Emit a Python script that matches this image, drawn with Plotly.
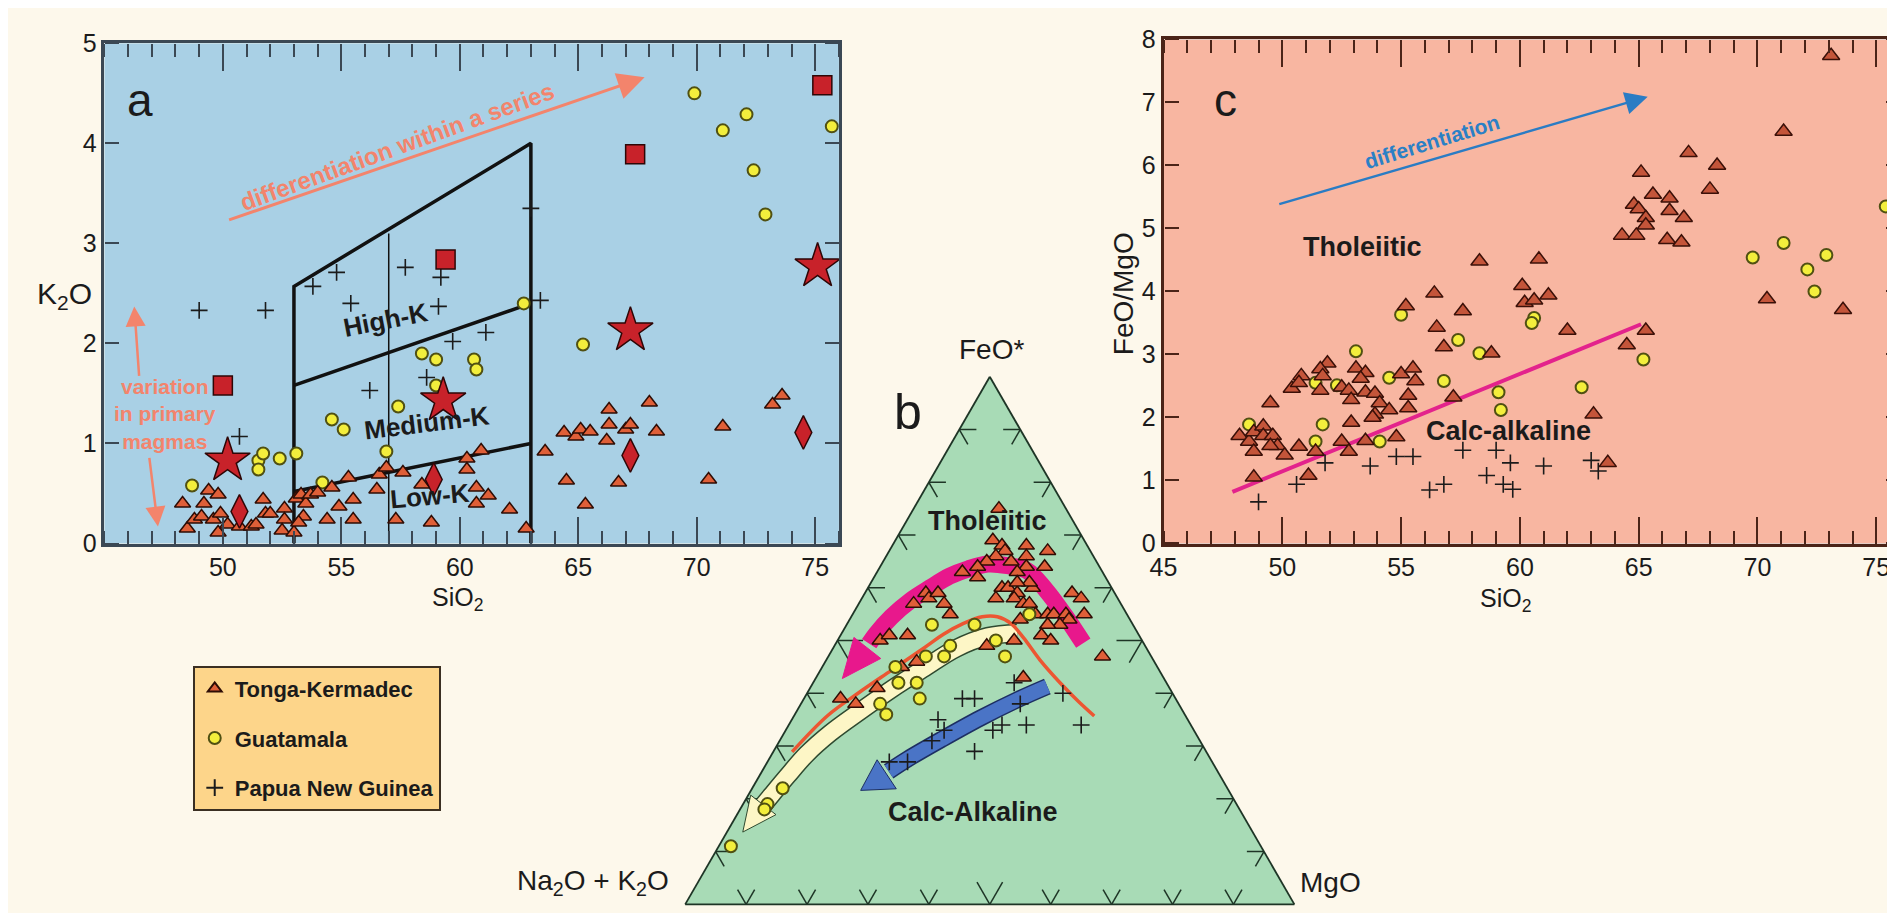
import plotly.graph_objects as go

FONT = "Liberation Sans, Arial, Helvetica, sans-serif"
W, H = 1895, 913

# ---------------- panel a : K2O vs SiO2 ----------------
a_tonga_sio2 = [48.3, 48.5, 48.8, 49.1, 49.2, 49.4, 49.8, 49.6, 49.8, 49.9,
                50.2, 50.7, 51.2, 51.4, 51.7, 51.8, 52.0, 52.6, 52.6, 52.5,
                53.0, 53.1, 53.3, 53.5, 53.7, 54.0, 53.4, 53.2, 54.4, 54.6,
                54.9, 55.3, 55.5, 55.5, 56.5, 56.6, 56.9, 57.3, 57.6, 58.4,
                58.8, 60.3, 60.9, 60.3, 60.7, 60.7, 61.2, 62.1, 62.8, 63.6,
                64.4, 64.9, 65.1, 65.5, 64.5, 65.3, 66.3, 66.3, 66.2, 67.0,
                67.2, 66.7, 68.0, 68.3, 70.5, 71.1, 73.2, 73.6]
a_tonga_k2o = [0.40, 0.15, 0.24, 0.27, 0.40, 0.53, 0.49, 0.24, 0.11, 0.30,
               0.19, 0.17, 0.17, 0.19, 0.44, 0.30, 0.30, 0.35, 0.24, 0.13,
               0.11, 0.45, 0.49, 0.40, 0.49, 0.51, 0.27, 0.21, 0.24, 0.56,
               0.37, 0.66, 0.44, 0.24, 0.54, 0.69, 0.76, 0.24, 0.71, 0.59,
               0.21, 0.85, 0.93, 0.74, 0.56, 0.40, 0.48, 0.34, 0.15, 0.92,
               1.11, 1.07, 1.14, 1.12, 0.63, 0.39, 1.34, 1.19, 1.03, 1.14,
               1.19, 0.61, 1.41, 1.12, 0.64, 1.17, 1.39, 1.48]

a_guat_sio2 = [48.7, 51.5, 51.7, 51.5, 52.4, 53.1, 54.2, 54.6, 55.1, 56.9,
               57.4, 58.4, 59.0, 59.0, 60.6, 60.7, 62.7, 65.2, 69.9, 72.1,
               71.1, 72.4, 72.9, 75.7]
a_guat_k2o = [0.58, 0.83, 0.90, 0.74, 0.85, 0.90, 0.61, 1.24, 1.14, 0.92,
              1.37, 1.90, 1.84, 1.58, 1.84, 1.74, 2.40, 1.99, 4.50, 4.29,
              4.13, 3.73, 3.29, 4.17]

a_png_sio2 = [49.0, 51.8, 50.7, 56.2, 58.6, 55.4, 59.1, 59.7, 61.1, 63.4,
              53.8, 54.8, 57.7, 59.2, 63.0]
a_png_k2o = [2.33, 2.33, 1.07, 1.53, 1.66, 2.40, 2.37, 2.02, 2.11, 2.43,
             2.57, 2.71, 2.76, 2.66, 3.35]

square_sio2 = [50.0, 59.4, 67.4, 75.3]
square_k2o = [1.58, 2.84, 3.89, 4.58]
star_sio2 = [50.2, 59.3, 67.2, 75.1]
star_k2o = [0.83, 1.43, 2.13, 2.77]
diamond_sio2 = [50.7, 58.9, 67.2, 74.5]
diamond_k2o = [0.32, 0.64, 0.88, 1.11]

# field boundaries (low-, medium-, high-K)
field_sio2 = [53, 53, 63, 63]
field_k2o = [0, 2.57, 4.0, 0]
highk_sio2 = [53, 63]
highk_k2o = [1.58, 2.40]
lowk_sio2 = [53, 63]
lowk_k2o = [0.52, 1.0]
mid_sio2 = [57, 57]
mid_k2o = [0, 3.1]

# ---------------- panel c : FeO/MgO vs SiO2 ----------------
c_tonga_sio2 = [58.3, 56.4, 60.1, 60.8, 55.2, 57.6, 60.2, 60.6, 73.1, 71.1,
                67.1, 68.3, 65.1, 68.0, 65.6, 66.3, 64.8, 65.0, 66.3, 66.9,
                65.3, 65.3, 64.3, 64.9, 66.2, 66.8, 61.2, 70.4, 73.6, 62.0,
                65.3, 64.5, 63.1, 63.7, 56.5, 56.8, 58.8, 51.9, 51.6, 50.8,
                50.4, 50.7, 51.7, 51.6, 53.1, 53.5, 53.3, 52.5, 52.8, 52.9,
                53.5, 53.9, 54.1, 54.5, 53.9, 53.8, 55.0, 55.5, 55.6, 55.3,
                55.3, 57.2, 49.5, 48.2, 48.6, 48.8, 49.2, 49.2, 49.6, 49.8,
                49.5, 48.8, 50.1, 50.7, 51.4, 52.5, 52.8, 53.5, 52.9, 54.8,
                48.8, 51.1]
c_tonga_ratio = [4.48, 3.97, 4.09, 4.51, 3.77, 3.69, 3.82, 3.86, 7.74, 6.54,
                 6.20, 6.00, 5.89, 5.62, 5.54, 5.48, 5.38, 5.31, 5.28, 5.17,
                 5.17, 5.05, 4.89, 4.89, 4.82, 4.78, 3.94, 3.88, 3.71, 3.38,
                 3.38, 3.15, 2.05, 1.28, 3.43, 3.12, 3.02, 2.86, 2.77, 2.66,
                 2.46, 2.55, 2.66, 2.43, 2.78, 2.71, 2.62, 2.48, 2.43, 2.28,
                 2.40, 2.38, 2.23, 2.12, 2.05, 2.00, 2.69, 2.78, 2.58, 2.35,
                 2.15, 2.32, 2.23, 1.71, 1.62, 1.77, 1.86, 1.71, 1.71, 1.55,
                 1.55, 1.46, 1.40, 1.54, 1.46, 1.62, 1.46, 1.63, 1.92, 1.69,
                 1.05, 1.08]

c_guat_sio2 = [55.0, 53.1, 57.4, 58.3, 60.6, 60.5, 56.8, 54.5, 59.1, 59.2,
               51.7, 51.4, 52.3, 51.4, 54.1, 48.6, 65.2, 62.6, 75.4, 71.1,
               69.8, 72.9, 72.1, 72.4]
c_guat_ratio = [3.63, 3.05, 3.23, 3.02, 3.58, 3.50, 2.58, 2.63, 2.40, 2.12,
                1.89, 2.55, 2.51, 1.62, 1.62, 1.89, 2.92, 2.48, 5.35, 4.77,
                4.54, 4.58, 4.35, 4.00]

c_png_sio2 = [49.0, 50.6, 51.8, 53.7, 54.8, 55.5, 56.2, 56.8, 57.6, 58.6,
              59.0, 59.3, 59.6, 59.7, 61.0, 63.0, 63.3]
c_png_ratio = [0.66, 0.94, 1.28, 1.23, 1.38, 1.38, 0.85, 0.94, 1.48, 1.08,
               1.48, 0.94, 1.28, 0.86, 1.23, 1.32, 1.15]

divide_sio2 = [47.9, 65.1]
divide_ratio = [0.82, 3.48]

# ---------------- panel b : AFM ternary (a=FeO*, b=Na2O+K2O, c=MgO) ----------------
b_tonga_a = [0.75, 0.69, 0.68, 0.67, 0.66, 0.68, 0.66, 0.67, 0.64, 0.64,
             0.63, 0.65, 0.65, 0.64, 0.63, 0.62, 0.60, 0.60, 0.59, 0.60,
             0.61, 0.61, 0.58, 0.58, 0.57, 0.57, 0.55, 0.55, 0.55, 0.55,
             0.59, 0.58, 0.55, 0.54, 0.53, 0.53, 0.51, 0.50, 0.54, 0.50,
             0.47, 0.49, 0.43, 0.59, 0.58, 0.59, 0.57, 0.55, 0.57, 0.50,
             0.51, 0.51, 0.46, 0.45, 0.41, 0.39, 0.38]
b_tonga_b = [0.11, 0.15, 0.14, 0.14, 0.16, 0.10, 0.11, 0.07, 0.09, 0.12,
             0.14, 0.14, 0.18, 0.20, 0.23, 0.21, 0.18, 0.17, 0.16, 0.13,
             0.13, 0.15, 0.20, 0.17, 0.16, 0.15, 0.15, 0.13, 0.12, 0.10,
             0.07, 0.06, 0.07, 0.10, 0.12, 0.14, 0.16, 0.15, 0.18, 0.21,
             0.08, 0.26, 0.23, 0.31, 0.31, 0.29, 0.29, 0.29, 0.34, 0.43,
             0.41, 0.38, 0.39, 0.42, 0.48, 0.55, 0.53]
b_tonga_c = [0.14, 0.16, 0.18, 0.19, 0.18, 0.22, 0.23, 0.26, 0.27, 0.24,
             0.23, 0.21, 0.17, 0.16, 0.14, 0.17, 0.22, 0.23, 0.25, 0.27,
             0.26, 0.24, 0.22, 0.25, 0.27, 0.28, 0.30, 0.32, 0.33, 0.35,
             0.34, 0.36, 0.38, 0.36, 0.35, 0.33, 0.33, 0.35, 0.28, 0.29,
             0.45, 0.25, 0.34, 0.10, 0.11, 0.12, 0.14, 0.16, 0.09, 0.07,
             0.08, 0.11, 0.15, 0.13, 0.11, 0.06, 0.09]

b_guat_a = [0.53, 0.53, 0.49, 0.47, 0.47, 0.45, 0.42, 0.42, 0.39, 0.38,
            0.36, 0.50, 0.47, 0.55, 0.22, 0.19, 0.18, 0.11]
b_guat_b = [0.33, 0.26, 0.32, 0.34, 0.37, 0.43, 0.44, 0.41, 0.42, 0.49,
            0.49, 0.24, 0.24, 0.16, 0.73, 0.77, 0.78, 0.87]
b_guat_c = [0.14, 0.21, 0.19, 0.19, 0.16, 0.12, 0.14, 0.17, 0.19, 0.13,
            0.15, 0.26, 0.29, 0.29, 0.05, 0.04, 0.04, 0.02]

b_png_a = [0.39, 0.39, 0.35, 0.33, 0.34, 0.34, 0.40, 0.34, 0.29, 0.38,
           0.42, 0.27, 0.27, 0.31, 0.33]
b_png_b = [0.35, 0.33, 0.41, 0.33, 0.31, 0.27, 0.18, 0.18, 0.38, 0.26,
           0.25, 0.53, 0.50, 0.44, 0.41]
b_png_c = [0.26, 0.28, 0.24, 0.34, 0.35, 0.39, 0.42, 0.48, 0.33, 0.36,
           0.33, 0.20, 0.23, 0.25, 0.26]

# trend arrows drawn in the ternary
tholeiite_trend_a = [0.495, 0.548, 0.596, 0.633, 0.642, 0.645, 0.636, 0.622, 0.600, 0.576, 0.545, 0.512, 0.494]
tholeiite_trend_b = [0.099, 0.103, 0.110, 0.123, 0.150, 0.181, 0.217, 0.255, 0.298, 0.342, 0.389, 0.431, 0.451]
tholeiite_trend_c = [0.406, 0.349, 0.294, 0.244, 0.208, 0.174, 0.147, 0.123, 0.102, 0.082, 0.066, 0.057, 0.055]
tholeiite_head_a = [0.506, 0.466, 0.428, 0.506]
tholeiite_head_b = [0.470, 0.446, 0.528, 0.470]
tholeiite_head_c = [0.024, 0.088, 0.044, 0.024]

guat_trend_a = [0.514, 0.508, 0.485, 0.448, 0.408, 0.366, 0.325, 0.285, 0.243, 0.207, 0.188]
guat_trend_b = [0.198, 0.249, 0.313, 0.383, 0.457, 0.530, 0.599, 0.658, 0.711, 0.755, 0.778]
guat_trend_c = [0.288, 0.243, 0.202, 0.169, 0.135, 0.104, 0.076, 0.057, 0.046, 0.038, 0.034]
guat_head_a = [0.207, 0.170, 0.137, 0.207]
guat_head_b = [0.789, 0.766, 0.837, 0.789]
guat_head_c = [0.004, 0.064, 0.026, 0.004]

calc_trend_a = [0.413, 0.389, 0.353, 0.313, 0.276, 0.252]
calc_trend_b = [0.199, 0.258, 0.339, 0.422, 0.496, 0.540]
calc_trend_c = [0.388, 0.353, 0.308, 0.265, 0.228, 0.208]
calc_head_a = [0.274, 0.219, 0.216, 0.274]
calc_head_b = [0.548, 0.544, 0.604, 0.548]
calc_head_c = [0.178, 0.237, 0.180, 0.178]

divide_a = [0.289, 0.358, 0.402, 0.444, 0.486, 0.512, 0.532, 0.545, 0.545, 0.532, 0.505, 0.463, 0.421, 0.384, 0.357]
divide_b = [0.680, 0.587, 0.513, 0.439, 0.365, 0.320, 0.278, 0.240, 0.215, 0.199, 0.192, 0.186, 0.175, 0.162, 0.150]
divide_c = [0.031, 0.055, 0.085, 0.117, 0.149, 0.168, 0.190, 0.215, 0.240, 0.269, 0.303, 0.351, 0.404, 0.454, 0.493]

# ---------------- styles ----------------
TRI_FILL, TRI_LINE = "#df5f38", "#2e0d05"
CIRC_FILL, CIRC_LINE = "#f3ee3c", "#505012"
RED, RED_LINE = "#c8222a", "#2e0606"
SALMON = "#f3846c"
INK = "#1b1b1b"
TERN_INK = "#1e3526"


def tri(size):
    return dict(symbol="triangle-up", size=size, color=TRI_FILL,
                line=dict(color=TRI_LINE, width=1.5))


def circ(size):
    return dict(symbol="circle", size=size, color=CIRC_FILL,
                line=dict(color=CIRC_LINE, width=2))


def cross(size):
    return dict(symbol="cross-thin", size=size, line=dict(color=INK, width=1.6))


fig = go.Figure()

# --- panel a ---
for xs, ys, wd in [(field_sio2, field_k2o, 3.5), (highk_sio2, highk_k2o, 3.5),
                   (lowk_sio2, lowk_k2o, 3.5), (mid_sio2, mid_k2o, 1.5)]:
    fig.add_trace(go.Scatter(x=xs, y=ys, mode="lines", line=dict(color="#111", width=wd),
                             showlegend=False, hoverinfo="skip"))

fig.add_trace(go.Scatter(x=a_guat_sio2, y=a_guat_k2o, mode="markers", marker=circ(12),
                         name="Guatamala", legendgroup="g", legendrank=2))
fig.add_trace(go.Scatter(x=a_tonga_sio2, y=a_tonga_k2o, mode="markers", marker=tri(14),
                         name="Tonga-Kermadec", legendgroup="t", legendrank=1))
fig.add_trace(go.Scatter(x=a_png_sio2, y=a_png_k2o, mode="markers", marker=cross(12),
                         name="Papua New Guinea", legendgroup="p", legendrank=3))
fig.add_trace(go.Scatter(x=square_sio2, y=square_k2o, mode="markers", showlegend=False,
                         marker=dict(symbol="square", size=19, color=RED, line=dict(color=RED_LINE, width=1.5))))
fig.add_trace(go.Scatter(x=star_sio2, y=star_k2o, mode="markers", showlegend=False,
                         marker=dict(symbol="star", size=34, color=RED, line=dict(color=RED_LINE, width=1.5))))
fig.add_trace(go.Scatter(x=diamond_sio2, y=diamond_k2o, mode="markers", showlegend=False,
                         marker=dict(symbol="diamond-tall", size=24, color=RED, line=dict(color=RED_LINE, width=1.5))))

# --- panel c ---
fig.add_trace(go.Scatter(x=divide_sio2, y=divide_ratio, xaxis="x2", yaxis="y2", mode="lines",
                         line=dict(color="#e3238c", width=4), showlegend=False, hoverinfo="skip"))
fig.add_trace(go.Scatter(x=c_guat_sio2, y=c_guat_ratio, xaxis="x2", yaxis="y2", mode="markers",
                         marker=circ(12), showlegend=False))
fig.add_trace(go.Scatter(x=c_tonga_sio2, y=c_tonga_ratio, xaxis="x2", yaxis="y2", mode="markers",
                         marker=dict(symbol="triangle-up", size=15, color="#c4553a",
                                     line=dict(color="#3a1008", width=1.5)), showlegend=False))
fig.add_trace(go.Scatter(x=c_png_sio2, y=c_png_ratio, xaxis="x2", yaxis="y2", mode="markers",
                         marker=cross(12), showlegend=False))

# empty traces so the overlaid tick-only axes get drawn
for xa, ya in [("x3", "y"), ("x4", "y"), ("x", "y3"), ("x", "y4"),
               ("x5", "y2"), ("x6", "y2"), ("x2", "y5"), ("x2", "y6")]:
    fig.add_trace(go.Scatter(x=[], y=[], xaxis=xa, yaxis=ya, showlegend=False, hoverinfo="skip"))


# --- panel b (ternary) ---
def tern_line(a, b, c, color, width, shape="spline"):
    fig.add_trace(go.Scatterternary(a=a, b=b, c=c, mode="lines", line=dict(color=color, width=width, shape=shape),
                                    showlegend=False, hoverinfo="skip"))


def tern_head(a, b, c, color, edge):
    fig.add_trace(go.Scatterternary(a=a, b=b, c=c, mode="lines", fill="toself", fillcolor=color,
                                    line=dict(color=edge, width=1), showlegend=False, hoverinfo="skip"))


# chevron tick marks along the three edges, every 0.1, following the grid directions
tk_a, tk_b, tk_c = [], [], []
for k in range(1, 10):
    v = k / 10
    t = 0.042 if k == 5 else 0.028
    for p0, p1 in [((0, 1 - v, v), (t, 1 - v - t, v)), ((0, 1 - v, v), (t, 1 - v, v - t)),
                   ((v, 1 - v, 0), (v, 1 - v - t, t)), ((v, 1 - v, 0), (v - t, 1 - v, t)),
                   ((v, 0, 1 - v), (v, t, 1 - v - t)), ((v, 0, 1 - v), (v - t, t, 1 - v))]:
        tk_a += [p0[0], p1[0], None]
        tk_b += [p0[1], p1[1], None]
        tk_c += [p0[2], p1[2], None]
fig.add_trace(go.Scatterternary(a=tk_a, b=tk_b, c=tk_c, mode="lines", line=dict(color=TERN_INK, width=1.5),
                                connectgaps=False, showlegend=False, hoverinfo="skip"))

tern_line(tholeiite_trend_a, tholeiite_trend_b, tholeiite_trend_c, "#e8188c", 17)
tern_head(tholeiite_head_a, tholeiite_head_b, tholeiite_head_c, "#e8188c", "#e8188c")
tern_line(guat_trend_a, guat_trend_b, guat_trend_c, "#2f4a30", 19)
tern_line(guat_trend_a, guat_trend_b, guat_trend_c, "#fdf6c6", 16)
tern_head(guat_head_a, guat_head_b, guat_head_c, "#fdf6c6", "#2f4a30")
tern_line(calc_trend_a, calc_trend_b, calc_trend_c, "#1d2f63", 17)
tern_line(calc_trend_a, calc_trend_b, calc_trend_c, "#4a74c6", 14)
tern_head(calc_head_a, calc_head_b, calc_head_c, "#4a74c6", "#1d2f63")
tern_line(divide_a, divide_b, divide_c, "#ec5632", 3.5)

fig.add_trace(go.Scatterternary(a=b_tonga_a, b=b_tonga_b, c=b_tonga_c, mode="markers",
                                marker=tri(14), showlegend=False))
fig.add_trace(go.Scatterternary(a=b_guat_a, b=b_guat_b, c=b_guat_c, mode="markers",
                                marker=circ(12), showlegend=False))
fig.add_trace(go.Scatterternary(a=b_png_a, b=b_png_b, c=b_png_c, mode="markers",
                                marker=cross(12), showlegend=False))


# ---------------- text ----------------
def px(x):
    return x / W


def py(y):
    return 1 - y / H


notes = []


def note(text, x, y, size, color=INK, angle=0, ref=("paper", "paper"), anchor="center", bold=False):
    notes.append(dict(text=f"<b>{text}</b>" if bold else text, x=x, y=y, xref=ref[0], yref=ref[1],
                      showarrow=False, textangle=angle, xanchor=anchor, yanchor="middle",
                      font=dict(family=FONT, size=size, color=color)))


def arrow(x0, y0, x1, y1, color, width, ref, size=1.6):
    notes.append(dict(text="", x=x1, y=y1, ax=x0, ay=y0, xref=ref[0], yref=ref[1],
                      axref=ref[0], ayref=ref[1], showarrow=True, arrowhead=2,
                      arrowsize=size, arrowwidth=width, arrowcolor=color))


A = ("x", "y")
C = ("x2", "y2")
note("a", px(119), py(80), 46)
note("b", px(893), py(402), 50)
note("c", px(1212), py(80), 46)

note("differentiation within a series", 57.36, 3.97, 24, SALMON, -20, A, bold=True)
arrow(50.2, 3.23, 67.8, 4.66, SALMON, 3, A, 1.8)
note("variation<br>in primary<br>magmas", 47.55, 1.29, 21, SALMON, 0, A, bold=True)
arrow(46.47, 1.66, 46.26, 2.37, SALMON, 2.5, A)
arrow(46.89, 0.87, 47.26, 0.17, SALMON, 2.5, A)
note("High-K", 56.86, 2.23, 26, INK, -11, A, bold=True)
note("Medium-K", 58.6, 1.20, 26, INK, -7, A, bold=True)
note("Low-K", 58.74, 0.47, 26, INK, -5, A, bold=True)

note("differentiation", 56.3, 6.38, 21, "#2a80c6", -17, C, bold=True)
arrow(49.81, 5.38, 65.38, 7.09, "#2a7cc4", 2.5, C, 1.8)
note("Tholeiitic", 53.37, 4.71, 27, INK, 0, C, bold=True)
note("Calc-alkaline", 59.52, 1.79, 27, INK, 0, C, bold=True)

note("Tholeiitic", px(973), py(515), 27, INK, bold=True)
note("Calc-Alkaline", px(958), py(815), 27, INK, bold=True)

note("K<sub>2</sub>O", px(43), py(282), 30)
note("SiO<sub>2</sub>", px(439), py(595), 25)
note("SiO<sub>2</sub>", px(1495), py(596), 25)
note("FeO/MgO", px(1110), py(280), 28, angle=-90)
note("FeO*", px(977), py(338), 28)
note("Na<sub>2</sub>O + K<sub>2</sub>O", px(654), py(888), 28, anchor="right")
note("MgO", px(1286), py(888), 28, anchor="left")

# ---------------- axes & layout ----------------
tickfont = dict(family=FONT, size=25, color=INK)
frame_a = "#3b4854"
frame_c = "#4b2418"
XA, YA = [px(83), px(823)], [1 - 538 / H, 1 - 22 / H]
XC, YC = [px(1150), px(1892)], [1 - 538 / H, 1 - 18 / H]


def label_axis(domain, anchor, frame, rng, **kw):
    return dict(domain=domain, anchor=anchor, range=rng, ticks="",
                showline=True, linecolor=frame, linewidth=2.5, mirror=True,
                showgrid=False, zeroline=False, tickfont=tickfont, **kw)


def x_ticks(over, pos, side, frame):
    # tick-only x axis pinned to a frame edge, ticks pointing into the plot
    return dict(overlaying=over, anchor="free", position=pos, side=side, range=[45, 76],
                tickvals=[50, 55, 60, 65, 70, 75], ticks="outside", ticklen=27, tickwidth=2,
                tickcolor=frame, minor=dict(dtick=1, tick0=45, ticks="outside", ticklen=13,
                                            tickwidth=2, tickcolor=frame),
                showticklabels=False, showline=False, showgrid=False, zeroline=False)


def y_ticks(over, pos, side, frame, top):
    return dict(overlaying=over, anchor="free", position=pos, side=side, range=[0, top],
                dtick=1, ticks="outside", ticklen=14, tickwidth=2, tickcolor=frame,
                showticklabels=False, showline=False, showgrid=False, zeroline=False)


tern_axis = dict(showticklabels=False, ticks="", showgrid=False, linecolor=TERN_INK,
                 linewidth=1.8, title=dict(text=""))

fig.update_layout(
    width=W, height=H,
    margin=dict(l=0, r=0, t=0, b=0),
    paper_bgcolor="#fdf8eb",
    plot_bgcolor="#a9d0e5",
    font=dict(family=FONT, color=INK),
    xaxis=label_axis(XA, "y", frame_a, [45, 76], tickvals=[50, 55, 60, 65, 70, 75]),
    yaxis=label_axis(YA, "x", frame_a, [0, 5], dtick=1),
    xaxis2=label_axis(XC, "y2", frame_c, [45, 76], tickvals=[45, 50, 55, 60, 65, 70, 75]),
    yaxis2=label_axis(YC, "x2", frame_c, [0, 8], dtick=1),
    xaxis3=x_ticks("x", YA[0], "top", frame_a),
    xaxis4=x_ticks("x", YA[1], "bottom", frame_a),
    yaxis3=y_ticks("y", XA[0], "right", frame_a, 5),
    yaxis4=y_ticks("y", XA[1], "left", frame_a, 5),
    xaxis5=x_ticks("x2", YC[0], "top", frame_c),
    xaxis6=x_ticks("x2", YC[1], "bottom", frame_c),
    yaxis5=y_ticks("y2", XC[0], "right", frame_c, 8),
    yaxis6=y_ticks("y2", XC[1], "left", frame_c, 8),
    ternary=dict(domain=dict(x=[px(661), px(1289)], y=[0.003, 1 - 366 / H]),
                 bgcolor="#a8dbb6", sum=1,
                 aaxis=tern_axis, baxis=tern_axis, caxis=tern_axis),
    shapes=[dict(type="rect", xref="x2 domain", yref="y2 domain", x0=0, x1=1, y0=0, y1=1,
                 fillcolor="#f8b6a1", line=dict(width=0), layer="below")],
    annotations=notes,
    showlegend=True,
    legend=dict(x=px(172), y=py(664), xanchor="left", yanchor="top",
                bgcolor="#fdd58a", bordercolor="#3b2f22", borderwidth=2,
                font=dict(family=FONT, size=22, color=INK, weight="bold"),
                tracegroupgap=18, itemsizing="constant",
                entrywidth=228, entrywidthmode="pixels"),
)

fig.write_html("out.html")
